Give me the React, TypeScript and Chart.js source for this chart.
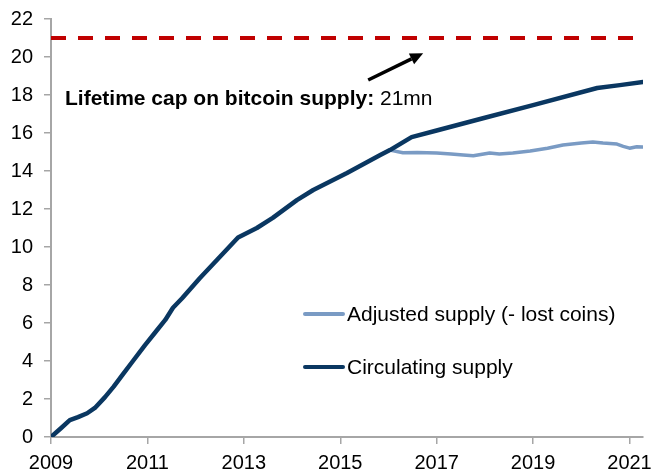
import React, { useEffect, useRef } from "react";
import { Chart, registerables } from "chart.js";

Chart.register(...registerables);

// ---- Data ----
const circYears = [
  2009.0, 2009.2, 2009.39, 2009.56, 2009.75, 2009.91, 2010.12, 2010.3, 2010.49, 2010.7,
  2010.95, 2011.16, 2011.37, 2011.53, 2011.72, 2012.09, 2012.5, 2012.88, 2013.27, 2013.6,
  2014.1, 2014.44, 2015.14, 2015.83, 2016.03, 2016.48, 2017.0, 2018.0, 2019.0, 2020.33,
  2020.8, 2021.28,
];
const circValues = [
  0, 0.45, 0.89, 1.05, 1.25, 1.53, 2.1, 2.65, 3.3, 4.0,
  4.84, 5.5, 6.16, 6.8, 7.3, 8.37, 9.47, 10.5, 11.0, 11.53,
  12.47, 13.0, 13.9, 14.84, 15.1, 15.78, 16.13, 16.8, 17.47, 18.37,
  18.52, 18.68,
];
const adjYears = [
  2016.03, 2016.3, 2016.6, 2017.0, 2017.3, 2017.55, 2017.76, 2018.1, 2018.3, 2018.58,
  2018.94, 2019.3, 2019.62, 2020.0, 2020.24, 2020.45, 2020.74, 2020.87, 2021.0, 2021.15,
  2021.28,
];
const adjValues = [
  15.1, 14.96, 14.98, 14.95, 14.9, 14.84, 14.8, 14.95, 14.9, 14.95,
  15.05, 15.2, 15.37, 15.47, 15.53, 15.47, 15.42, 15.3, 15.2, 15.28,
  15.26,
];
const capYears = [2009, 2021.28];
const capValue = 21;
const xTicks = [2009, 2011, 2013, 2015, 2017, 2019, 2021];
const yTicks = [0, 2, 4, 6, 8, 10, 12, 14, 16, 18, 20, 22];
const seriesLabels = ["Adjusted supply (- lost coins)", "Circulating supply"];
const annotationBold = "Lifetime cap on bitcoin supply:";
const annotationRegular = " 21mn";
// annotation anchors in data coordinates [year, value]
const arrowTail = [2015.58, 18.79];
const arrowTip = [2016.72, 20.2];
const annotationAnchor = [2009.29, 17.47];

const DARK = "#0A3761";
const LIGHT = "#7A9BC4";
const RED = "#C00000";
const AXIS = "#A6A6A6";
const FONT = "'Liberation Sans', Arial, sans-serif";

const overlayPlugin = {
  id: "overlay",
  afterDatasetsDraw(chart: any) {
    const ctx = chart.ctx as CanvasRenderingContext2D;
    const xs = chart.scales.x;
    const ys = chart.scales.y;
    const area = chart.chartArea;
    ctx.save();

    // arrow
    const x1 = xs.getPixelForValue(arrowTail[0]);
    const y1 = ys.getPixelForValue(arrowTail[1]);
    const x2 = xs.getPixelForValue(arrowTip[0]);
    const y2 = ys.getPixelForValue(arrowTip[1]);
    const ang = Math.atan2(y2 - y1, x2 - x1);
    const c = Math.cos(ang), s = Math.sin(ang);
    const headLen = 13, headW = 6;
    ctx.strokeStyle = "#000";
    ctx.fillStyle = "#000";
    ctx.lineWidth = 3.5;
    ctx.beginPath();
    ctx.moveTo(x1, y1);
    ctx.lineTo(x2 - headLen * c, y2 - headLen * s);
    ctx.stroke();
    ctx.beginPath();
    ctx.moveTo(x2, y2);
    ctx.lineTo(x2 - headLen * c + headW * s, y2 - headLen * s - headW * c);
    ctx.lineTo(x2 - headLen * c - headW * s, y2 - headLen * s + headW * c);
    ctx.closePath();
    ctx.fill();

    // annotation text
    const tx = xs.getPixelForValue(annotationAnchor[0]);
    const ty = ys.getPixelForValue(annotationAnchor[1]);
    ctx.textBaseline = "alphabetic";
    ctx.textAlign = "left";
    ctx.font = `bold 21px ${FONT}`;
    ctx.fillText(annotationBold, tx, ty);
    const w = ctx.measureText(annotationBold).width;
    ctx.font = `21px ${FONT}`;
    ctx.fillText(annotationRegular, tx + w, ty);

    // legend
    const ds = chart.data.datasets;
    const lx = area.left + 254;
    const rows = [area.top + 295, area.top + 348];
    [0, 1].forEach((i) => {
      const y = rows[i];
      ctx.strokeStyle = ds[i].borderColor;
      ctx.lineWidth = 4;
      ctx.lineCap = "round";
      ctx.beginPath();
      ctx.moveTo(lx, y);
      ctx.lineTo(lx + 38, y);
      ctx.stroke();
      ctx.fillStyle = "#000";
      ctx.font = `21px ${FONT}`;
      ctx.textBaseline = "middle";
      ctx.fillText(ds[i].label, lx + 42, y + 1);
    });
    ctx.restore();
  },
};

export default function App() {
  const ref = useRef<HTMLCanvasElement | null>(null);
  useEffect(() => {
    if (!ref.current) return;
    const chart = new Chart(ref.current, {
      type: "line",
      data: {
        datasets: [
          {
            label: seriesLabels[0],
            data: adjYears.map((x, i) => ({ x, y: adjValues[i] })),
            borderColor: LIGHT,
            borderWidth: 3.5,
            pointRadius: 0,
            borderJoinStyle: "round",
            borderCapStyle: "round",
            order: 2,
          },
          {
            label: seriesLabels[1],
            data: circYears.map((x, i) => ({ x, y: circValues[i] })),
            borderColor: DARK,
            borderWidth: 4.5,
            pointRadius: 0,
            borderJoinStyle: "round",
            borderCapStyle: "round",
            order: 1,
          },
          {
            label: "cap",
            data: capYears.map((x) => ({ x, y: capValue })),
            borderColor: RED,
            borderWidth: 4,
            borderDash: [15, 12],
            pointRadius: 0,
            order: 0,
          },
        ],
      },
      options: {
        animation: false,
        responsive: false,
        devicePixelRatio: 1,
        layout: { padding: { left: 0, right: 9, top: 19, bottom: 0 } },
        plugins: { legend: { display: false }, tooltip: { enabled: false } },
        scales: {
          x: {
            type: "linear",
            min: 2009,
            max: 2021.28,
            afterBuildTicks: (scale: any) => {
              scale.ticks = xTicks.map((v) => ({ value: v }));
            },
            afterFit: (scale: any) => {
              scale.height = 39;
              scale.paddingLeft = 0;
              scale.paddingRight = 0;
            },
            grid: { drawOnChartArea: false, drawTicks: true, tickLength: 7, color: AXIS, lineWidth: 1.5 },
            border: { display: true, color: AXIS, width: 2 },
            ticks: {
              color: "#000",
              font: { family: FONT, size: 20 },
              padding: 7,
              maxRotation: 0,
              autoSkip: false,
              callback: (v: any) => String(v),
            },
          },
          y: {
            min: 0,
            max: 22,
            afterBuildTicks: (scale: any) => {
              scale.ticks = yTicks.map((v) => ({ value: v }));
            },
            afterFit: (scale: any) => {
              scale.width = 51;
              scale.paddingTop = 0;
              scale.paddingBottom = 0;
            },
            grid: { drawOnChartArea: false, drawTicks: true, tickLength: 7, color: AXIS, lineWidth: 1.5 },
            border: { display: true, color: AXIS, width: 2 },
            ticks: {
              color: "#000",
              font: { family: FONT, size: 20 },
              padding: 11,
              callback: (v: any) => String(v),
            },
          },
        },
      },
      plugins: [overlayPlugin],
    });
    return () => chart.destroy();
  }, []);
  return (
    <div style={{ position: "absolute", left: 0, top: 0, width: 652, height: 476, background: "#fff" }}>
      <canvas ref={ref} width={652} height={476} style={{ width: 652, height: 476 }} />
    </div>
  );
}
